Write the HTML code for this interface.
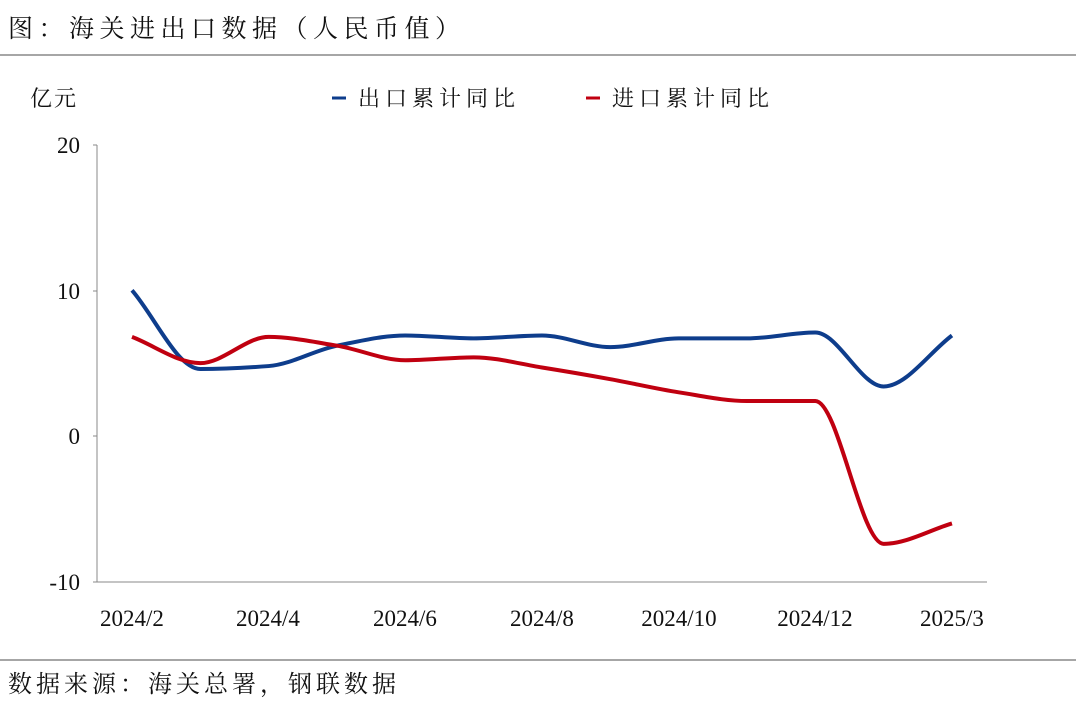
<!DOCTYPE html>
<html><head><meta charset="utf-8"><style>
body{margin:0;background:#fff;width:1076px;height:716px;overflow:hidden;}
svg text{font-family:"Liberation Serif","Noto Serif CJK SC",serif;fill:#111;}
</style></head><body>
<svg width="1076" height="716" viewBox="0 0 1076 716">
<text x="8" y="37" font-size="25" letter-spacing="5.5">图：海关进出口数据（人民币值）</text>
<line x1="0" y1="55" x2="1076" y2="55" stroke="#888" stroke-width="1.5"/>
<text x="30" y="106" font-size="22" letter-spacing="2">亿元</text>
<line x1="332" y1="98" x2="346" y2="98" stroke="#0e3d8c" stroke-width="3"/>
<text x="358" y="106" font-size="22" letter-spacing="5">出口累计同比</text>
<line x1="586" y1="98" x2="600" y2="98" stroke="#c00010" stroke-width="3"/>
<text x="612" y="106" font-size="22" letter-spacing="5">进口累计同比</text>
<g stroke="#888" stroke-width="1">
<line x1="97" y1="145" x2="97" y2="582"/>
<line x1="97" y1="582" x2="987" y2="582"/>
<line x1="93" y1="145" x2="97" y2="145"/>
<line x1="93" y1="291" x2="97" y2="291"/>
<line x1="93" y1="436" x2="97" y2="436"/>
<line x1="93" y1="582" x2="97" y2="582"/>
</g>
<g font-size="23" text-anchor="end">
<text x="80" y="153">20</text><text x="80" y="299">10</text><text x="80" y="444">0</text><text x="80" y="590">-10</text>
</g>
<g font-size="23" text-anchor="middle">
<text x="132" y="626">2024/2</text><text x="268" y="626">2024/4</text><text x="405" y="626">2024/6</text><text x="542" y="626">2024/8</text><text x="679" y="626">2024/10</text><text x="815" y="626">2024/12</text><text x="952" y="626">2025/3</text>
</g>
<path id="b" fill="none" stroke="#0e3d8c" stroke-width="4"/>
<path id="r" fill="none" stroke="#c00010" stroke-width="4"/>
<line x1="0" y1="660" x2="1076" y2="660" stroke="#888" stroke-width="1.5"/>
<text x="8" y="692" font-size="24" letter-spacing="4">数据来源：海关总署，钢联数据</text>
</svg>
<script>
function P(v){var h=68.33,n=v.length,y=v.map(function(a){return 436-a*14.57;}),x=v.map(function(a,i){return 132+i*h;});
var d=[],m=[];for(var i=0;i<n-1;i++)d.push((y[i+1]-y[i])/h);
m[0]=d[0];m[n-1]=d[n-2];
for(i=1;i<n-1;i++){if(d[i-1]*d[i]<=0)m[i]=0;else m[i]=2/(1/d[i-1]+1/d[i]);}
var s="M"+x[0]+","+y[0];
for(i=0;i<n-1;i++){s+=" C"+(x[i]+h/3)+","+(y[i]+m[i]*h/3)+" "+(x[i+1]-h/3)+","+(y[i+1]-m[i+1]*h/3)+" "+x[i+1]+","+y[i+1];}
return s;}
document.getElementById("b").setAttribute("d",P([10,4.6,4.8,6.2,6.9,6.7,6.9,6.1,6.7,6.7,7.1,3.4,6.9]));
document.getElementById("r").setAttribute("d",P([6.8,5.0,6.8,6.2,5.2,5.4,4.7,3.9,3.0,2.4,2.4,-7.4,-6.0]));
</script>
</body></html>
